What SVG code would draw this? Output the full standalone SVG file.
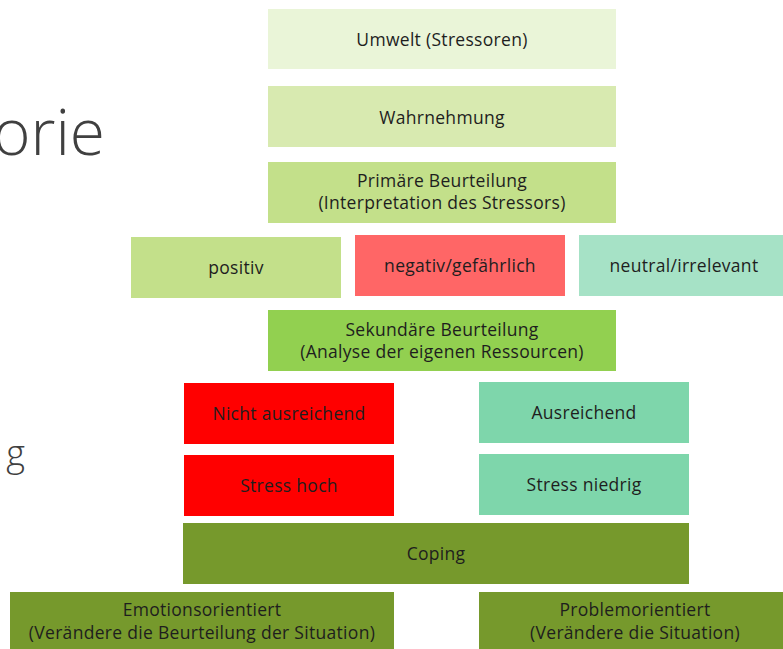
<svg xmlns="http://www.w3.org/2000/svg" width="783" height="649" viewBox="0 0 783 649">
<style>
.t{font-family:"Open Sans","Noto Sans","Liberation Sans",sans-serif;font-size:17.5px;letter-spacing:0.3px;fill:#1e1e1e;text-anchor:middle}
.big{font-family:"Open Sans","Noto Sans","Liberation Sans",sans-serif;font-weight:300;fill:#404040}
</style>
<rect width="783" height="649" fill="#ffffff"/>
<text class="big" x="105" y="155" font-size="64" text-anchor="end">orie</text>
<text class="big" x="25" y="466" font-size="36" text-anchor="end">g</text>
<g id="connectors"></g>
<g id="umwelt"><rect x="268" y="9" width="348" height="60" fill="#EAF5D8"/><text class="t" x="442" y="46">Umwelt (Stressoren)</text></g>
<g id="wahrnehmung"><rect x="268" y="86" width="348" height="61" fill="#D8EAB0"/><text class="t" x="442" y="124">Wahrnehmung</text></g>
<g id="primaer"><rect x="268" y="162" width="348" height="61" fill="#C3E08A"/><text class="t" x="442" y="187">Primäre Beurteilung</text><text class="t" x="442" y="209">(Interpretation des Stressors)</text></g>
<g id="positiv"><rect x="131" y="237" width="210" height="61" fill="#C3E08A"/><text class="t" x="236" y="274">positiv</text></g>
<g id="negativ"><rect x="355" y="235" width="210" height="61" fill="#FF6666"/><text class="t" x="460" y="272">negativ/gefährlich</text></g>
<g id="neutral"><rect x="579" y="235" width="210" height="61" fill="#A6E2C6"/><text class="t" x="684" y="272">neutral/irrelevant</text></g>
<g id="sekundaer"><rect x="268" y="310" width="348" height="61" fill="#92D050"/><text class="t" x="442" y="336">Sekundäre Beurteilung</text><text class="t" x="442" y="358">(Analyse der eigenen Ressourcen)</text></g>
<g id="nicht-ausreichend"><rect x="184" y="383" width="210" height="61" fill="#FF0000"/><text class="t" x="289" y="420">Nicht ausreichend</text></g>
<g id="ausreichend"><rect x="479" y="382" width="210" height="61" fill="#7ED6AB"/><text class="t" x="584" y="419">Ausreichend</text></g>
<g id="stress-hoch"><rect x="184" y="455" width="210" height="61" fill="#FF0000"/><text class="t" x="289" y="492">Stress hoch</text></g>
<g id="stress-niedrig"><rect x="479" y="454" width="210" height="61" fill="#7ED6AB"/><text class="t" x="584" y="491">Stress niedrig</text></g>
<g id="coping"><rect x="183" y="523" width="506" height="61" fill="#76992C"/><text class="t" x="436" y="560">Coping</text></g>
<g id="emotionsorientiert"><rect x="10" y="592" width="384" height="60" fill="#76992C"/><text class="t" x="202" y="616">Emotionsorientiert</text><text class="t" x="202" y="639">(Verändere die Beurteilung der Situation)</text></g>
<g id="problemorientiert"><rect x="479" y="592" width="312" height="60" fill="#76992C"/><text class="t" x="635" y="616">Problemorientiert</text><text class="t" x="635" y="639">(Verändere die Situation)</text></g>
</svg>
